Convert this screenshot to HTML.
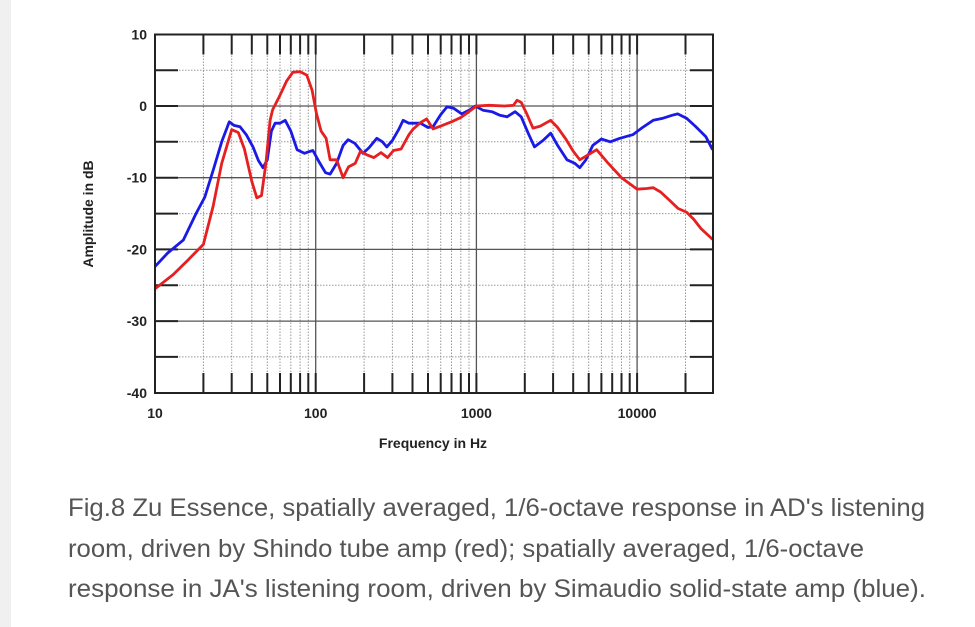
<!DOCTYPE html>
<html><head><meta charset="utf-8"><style>
html,body{margin:0;padding:0;background:#fff;width:975px;height:627px;overflow:hidden}
#strip{position:absolute;left:0;top:0;width:11px;height:627px;background:#f0f0f0}
svg{position:absolute;left:0;top:0}
</style></head><body>
<div id="strip"></div>
<svg id="s" width="975" height="627" xmlns="http://www.w3.org/2000/svg" font-family="Liberation Sans, Arial, sans-serif"></svg>
<script>
const L=155,R=713,T=34.5,B=393,D=160.7;
const px=f=>L+D*Math.log10(f/10), py=d=>106-7.17*d;
let h='';
const freqs=[];
for(let dec of [10,100,1000,10000]) for(let m=2;m<=9;m++){let f=dec*m; if(f<29500) freqs.push(f);}
for(const f of freqs){const x=px(f).toFixed(1);h+=`<line x1="${x}" y1="${T}" x2="${x}" y2="${B}" stroke="#999" stroke-width="1" stroke-dasharray="1.5,1.5"/>`;}
for(const d of [5,-5,-15,-25,-35]){const y=py(d).toFixed(1);h+=`<line x1="${L}" y1="${y}" x2="${R}" y2="${y}" stroke="#999" stroke-width="1" stroke-dasharray="1.5,1.5"/>`;}
for(const f of [100,1000,10000]){const x=px(f).toFixed(1);h+=`<line x1="${x}" y1="${T}" x2="${x}" y2="${B}" stroke="#555" stroke-width="1.3"/>`;}
for(const d of [0,-10,-20,-30]){const y=py(d).toFixed(1);h+=`<line x1="${L}" y1="${y}" x2="${R}" y2="${y}" stroke="#555" stroke-width="1.3"/>`;}
for(const f of freqs.concat([100,1000,10000])){const x=px(f).toFixed(1);h+=`<line x1="${x}" y1="${T}" x2="${x}" y2="${T+20}" stroke="#222" stroke-width="2"/><line x1="${x}" y1="${B}" x2="${x}" y2="${B-20}" stroke="#222" stroke-width="2"/>`;}
for(const d of [5,0,-5,-10,-15,-20,-25,-30,-35]){const y=py(d).toFixed(1);h+=`<line x1="${L}" y1="${y}" x2="${L+23}" y2="${y}" stroke="#222" stroke-width="2"/><line x1="${R}" y1="${y}" x2="${R-23}" y2="${y}" stroke="#222" stroke-width="2"/>`;}
const red=[[10,-25.5],[13,-23.5],[16,-21.5],[20,-19.3],[23,-14],[26,-8],[30,-3.3],[33,-3.7],[36,-6],[40,-10.5],[43,-12.8],[46,-12.5],[49,-8],[52,-2],[54,-0.5],[60,1.5],[66,3.5],[72,4.7],[80,4.8],[88,4.3],[95,2.2],[101,-1],[108,-3.5],[116,-4.5],[123,-7.5],[135,-7.5],[148,-10],[160,-8.5],[176,-8],[190,-6.3],[208,-6.8],[230,-7.2],[255,-6.5],[280,-7.2],[305,-6.2],[340,-6],[380,-4],[405,-3.2],[450,-2.3],[490,-1.8],[537,-3.2],[600,-2.8],[700,-2.2],[800,-1.6],[900,-0.8],[1000,0],[1200,0.1],[1500,0],[1700,0.1],[1790,0.8],[1900,0.5],[2050,-1],[2250,-3.1],[2500,-2.8],[2900,-2],[3200,-3],[3600,-4.6],[4000,-6.3],[4400,-7.5],[4800,-7],[5600,-6.1],[6500,-7.8],[8000,-10],[10000,-11.6],[11500,-11.5],[12600,-11.4],[14000,-12],[16000,-13.2],[18000,-14.3],[20300,-14.8],[22500,-15.8],[25000,-17.1],[29500,-18.6]];
const blue=[[10,-22.4],[12,-20.5],[15,-18.7],[18,-15],[20.4,-12.7],[23,-9],[26,-5],[29,-2.2],[31,-2.7],[33.8,-2.9],[37,-4],[40.7,-5.7],[44,-7.6],[47,-8.6],[50,-7.5],[53,-3.5],[55.9,-2.4],[60,-2.4],[64.6,-2],[70,-3.5],[76.6,-6.1],[85,-6.6],[90,-6.4],[96,-6.2],[105,-7.8],[115,-9.3],[123,-9.5],[135,-8],[148,-5.5],[159,-4.7],[175,-5.2],[197,-6.6],[215,-5.8],[240,-4.5],[260,-5],[277,-5.7],[300,-4.8],[330,-3.2],[350,-2],[380,-2.4],[420,-2.4],[448,-2.4],[500,-3],[537,-2.9],[600,-1.2],[657,-0.1],[720,-0.3],[810,-1.1],[900,-0.6],[985,0],[1100,-0.6],[1250,-0.8],[1400,-1.3],[1550,-1.5],[1740,-0.8],[1900,-1.5],[2100,-3.8],[2300,-5.7],[2600,-4.8],[2900,-3.8],[3200,-5.5],[3660,-7.5],[4100,-8],[4400,-8.6],[4800,-7.5],[5300,-5.5],[6000,-4.6],[6800,-5],[7800,-4.5],[9400,-4],[10800,-3],[12600,-2],[14500,-1.7],[16500,-1.3],[17900,-1.1],[20300,-1.7],[23000,-2.8],[26800,-4.3],[29500,-6.1]];
const path=(a,c)=>`<polyline fill="none" stroke="${c}" stroke-width="2.8" stroke-linejoin="round" points="${a.map(p=>px(p[0]).toFixed(1)+','+py(p[1]).toFixed(1)).join(' ')}"/>`;
h+=path(blue,'#1a1ae6')+path(red,'#e62020');
h+=`<rect x="${L}" y="${T}" width="${R-L}" height="${B-T}" fill="none" stroke="#222" stroke-width="2"/>`;
[[10,'10'],[0,'0'],[-10,'-10'],[-20,'-20'],[-30,'-30'],[-40,'-40']].forEach(([d,t])=>{h+=`<text x="147" y="${(py(d)+5).toFixed(1)}" text-anchor="end" font-size="14" font-weight="bold" fill="#222">${t}</text>`;});
[[10,'10'],[100,'100'],[1000,'1000'],[10000,'10000']].forEach(([f,t])=>{h+=`<text x="${px(f).toFixed(1)}" y="418" text-anchor="middle" font-size="14" font-weight="bold" fill="#222">${t}</text>`;});
h+=`<text x="433" y="448" text-anchor="middle" font-size="14" font-weight="bold" fill="#222">Frequency in Hz</text>`;
h+=`<text transform="translate(93,214) rotate(-90)" text-anchor="middle" font-size="14" font-weight="bold" fill="#222">Amplitude in dB</text>`;
const cap=[["Fig.8 Zu Essence, spatially averaged, 1/6-octave response in AD's listening",516,857],["room, driven by Shindo tube amp (red); spatially averaged, 1/6-octave",557,796],["response in JA's listening room, driven by Simaudio solid-state amp (blue).",597,858]];
cap.forEach(([t,y,w])=>{h+=`<text x="68" y="${y}" font-size="25" fill="#555" textLength="${w}" lengthAdjust="spacingAndGlyphs">${t}</text>`;});
document.getElementById('s').innerHTML=h;
</script>
</body></html>
